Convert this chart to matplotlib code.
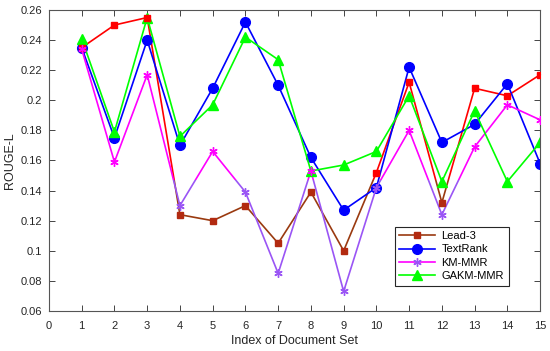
import matplotlib

matplotlib.use("Agg")
import matplotlib.pyplot as plt
from matplotlib.lines import Line2D
from matplotlib.patches import Rectangle
import numpy as np

plt.rcParams["font.family"] = ["Liberation Sans", "DejaVu Sans"]

doc_index = [1, 2, 3, 4, 5, 6, 7, 8, 9, 10, 11, 12, 13, 14, 15]
lead3 = [0.235, 0.250, 0.255, 0.124, 0.120, 0.130, 0.105, 0.139, 0.100, 0.152, 0.212, 0.132, 0.208, 0.203, 0.217]
textrank = [0.235, 0.175, 0.240, 0.170, 0.208, 0.252, 0.210, 0.162, 0.127, 0.142, 0.222, 0.172, 0.184, 0.211, 0.158]
km_mmr = [0.234, 0.159, 0.217, 0.130, 0.166, 0.139, 0.085, 0.153, 0.073, 0.142, 0.180, 0.124, 0.169, 0.197, 0.187]
gakm_mmr = [0.241, 0.179, 0.255, 0.176, 0.197, 0.242, 0.227, 0.153, 0.157, 0.166, 0.203, 0.146, 0.193, 0.146, 0.172]

# the lower part of the original image is tinted: red -> brown, magenta -> purple
THRESH = 0.147
BROWN = "#9a3a10"
PURPLE = "#9a55f5"

fig = plt.figure(figsize=(5.5, 3.51), dpi=100)
ax = fig.add_axes([0.089, 0.114, 0.893, 0.8575])
ax.set_xlim(0, 15)
ax.set_ylim(0.06, 0.26)

upper = Rectangle((-1, THRESH), 20, 1, transform=ax.transData)
lower = Rectangle((-1, -1), 20, 1 + THRESH, transform=ax.transData)


def split_plot(y, top_color, bottom_color, marker, ms, face_top, face_bottom):
    y = np.asarray(y)
    x = np.asarray(doc_index)
    hi = ax.plot(x, y, color=top_color, lw=1.2, zorder=2)[0]
    hi.set_clip_path(upper)
    lo = ax.plot(x, y, color=bottom_color, lw=1.2, zorder=2)[0]
    lo.set_clip_path(lower)
    m = y >= THRESH
    ax.plot(x[m], y[m], ls="none", marker=marker, ms=ms, color=face_top, mec=face_top, zorder=3)
    ax.plot(x[~m], y[~m], ls="none", marker=marker, ms=ms, color=face_bottom, mec=face_bottom, zorder=3)


split_plot(lead3, "#ff0000", BROWN, "s", 5, "#ff0000", "#b22a10")
ax.plot(doc_index, textrank, color="#0000ff", lw=1.2, marker="o", ms=7, zorder=2)
split_plot(km_mmr, "#ff00ff", PURPLE, (6, 2, 0), 6, "#ff00ff", PURPLE)
ax.plot(doc_index, gakm_mmr, color="#00ff00", lw=1.2, marker="^", ms=7, zorder=2)

ax.set_xticks(np.arange(0, 16, 1))
ax.set_yticks(np.arange(0.06, 0.2601, 0.02))
ax.set_yticklabels(["0.06", "0.08", "0.1", "0.12", "0.14", "0.16", "0.18", "0.2", "0.22", "0.24", "0.26"])
ax.tick_params(direction="in", top=True, right=True, length=4, width=0.6,
               labelsize=8, colors="#262626")
ax.tick_params(axis="x", pad=7)
ax.tick_params(axis="y", pad=5)
for s in ax.spines.values():
    s.set_color("#555555")
    s.set_linewidth(0.8)

ax.set_xlabel("Index of Document Set", fontsize=9, color="#262626", labelpad=3)
ax.set_ylabel("ROUGE-L", fontsize=9, color="#262626", labelpad=3)

handles = [
    Line2D([], [], color=BROWN, marker="s", ms=5, mfc="#b22a10", mec="#b22a10", lw=1.2),
    Line2D([], [], color="#0000ff", marker="o", ms=7, lw=1.2),
    Line2D([], [], color="#ff00ff", marker=(6, 2, 0), ms=6, mec=PURPLE, lw=1.2),
    Line2D([], [], color="#00ff00", marker="^", ms=7, lw=1.2),
]
leg = ax.legend(handles, ["Lead-3", "TextRank", "KM-MMR", "GAKM-MMR"],
                loc="lower right", bbox_to_anchor=(0.947, 0.066), fontsize=8,
                fancybox=False, framealpha=1, edgecolor="#262626",
                handlelength=3.2, labelspacing=0.3, borderpad=0.4, handletextpad=0.6)
leg.get_frame().set_linewidth(0.8)

fig.savefig("out.png", dpi=100)
